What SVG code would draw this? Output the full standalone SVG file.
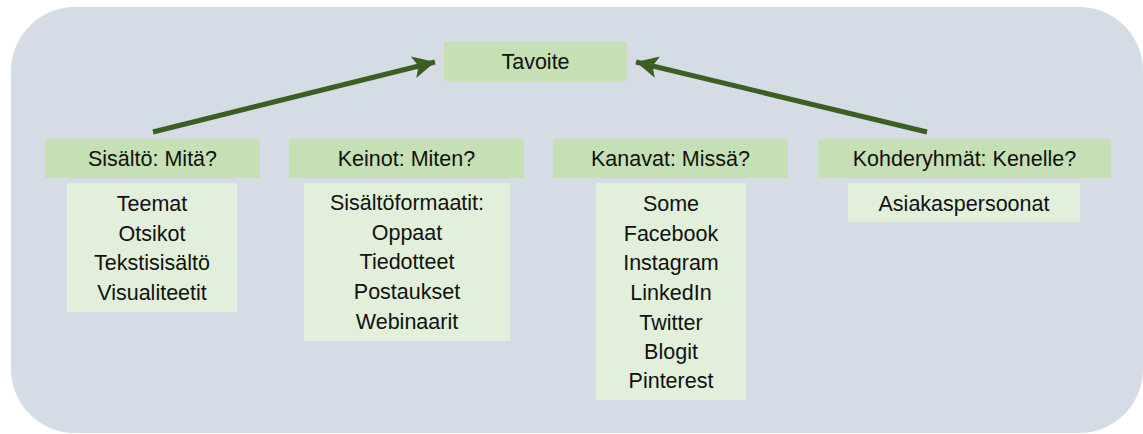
<svg xmlns="http://www.w3.org/2000/svg" width="1143" height="434" viewBox="0 0 1143 434">
<defs>
<style>
.bg{fill:#D6DCE5}
.hd{fill:#C5E0B4}
.sb{fill:#E2EFDA}
text{font-family:"Liberation Sans",Arial,sans-serif;font-size:21.5px;fill:#111;text-anchor:middle}
.ar{stroke:#3B5E23;stroke-width:5;fill:none;marker-end:url(#ah)}
</style>
<marker id="ah" markerUnits="userSpaceOnUse" markerWidth="26" markerHeight="24" refX="22" refY="11" orient="auto">
<path d="M0,0 L22,11 L0,22 L5,11 Z" fill="#3B5E23"/>
</marker>
</defs>
<rect class="bg" x="11" y="7" width="1132" height="426" rx="64" ry="64"/>
<g id="connectors">
<line class="ar" x1="153" y1="132" x2="435" y2="62"/>
<line class="ar" x1="927" y1="132" x2="636" y2="62"/>
</g>
<g id="tavoite">
<rect class="hd" x="444" y="42" width="183" height="39"/>
<text x="535.5" y="69">Tavoite</text>
</g>
<g id="sisalto">
<rect class="hd" x="45" y="139" width="215" height="39"/>
<text x="152.5" y="166">Sisältö: Mitä?</text>
</g>
<g id="sisalto-list">
<rect class="sb" x="67" y="183" width="170" height="129"/>
<text x="152" y="211">Teemat</text>
<text x="152" y="241">Otsikot</text>
<text x="152" y="270">Tekstisisältö</text>
<text x="152" y="300">Visualiteetit</text>
</g>
<g id="keinot">
<rect class="hd" x="289" y="139" width="235" height="39"/>
<text x="406.5" y="166">Keinot: Miten?</text>
</g>
<g id="keinot-list">
<rect class="sb" x="304" y="183" width="206" height="158"/>
<text x="407" y="210">Sisältöformaatit:</text>
<text x="407" y="240">Oppaat</text>
<text x="407" y="269">Tiedotteet</text>
<text x="407" y="299">Postaukset</text>
<text x="407" y="329">Webinaarit</text>
</g>
<g id="kanavat">
<rect class="hd" x="553" y="139" width="235" height="39"/>
<text x="670.5" y="166">Kanavat: Missä?</text>
</g>
<g id="kanavat-list">
<rect class="sb" x="596" y="183" width="150" height="217"/>
<text x="671" y="211">Some</text>
<text x="671" y="241">Facebook</text>
<text x="671" y="270">Instagram</text>
<text x="671" y="300">LinkedIn</text>
<text x="671" y="330">Twitter</text>
<text x="671" y="359">Blogit</text>
<text x="671" y="388">Pinterest</text>
</g>
<g id="kohderyhmat">
<rect class="hd" x="818" y="139" width="293" height="39"/>
<text x="964.5" y="166">Kohderyhmät: Kenelle?</text>
</g>
<g id="kohderyhmat-list">
<rect class="sb" x="848" y="183" width="232" height="39"/>
<text x="964" y="211">Asiakaspersoonat</text>
</g>
</svg>
